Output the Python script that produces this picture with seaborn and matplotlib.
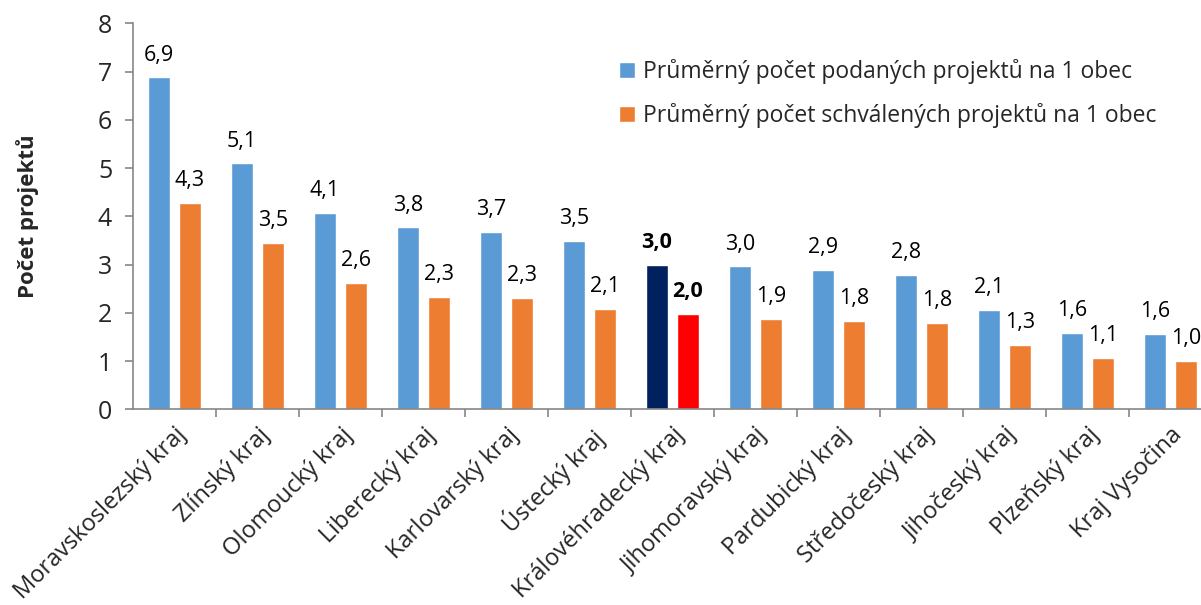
import numpy as np
import pandas as pd
import seaborn as sns
import matplotlib.pyplot as plt
from matplotlib.patches import Patch

kraje = ["Moravskoslezský kraj", "Zlínský kraj", "Olomoucký kraj", "Liberecký kraj",
         "Karlovarský kraj", "Ústecký kraj", "Královéhradecký kraj", "Jihomoravský kraj",
         "Pardubický kraj", "Středočeský kraj", "Jihočeský kraj", "Plzeňský kraj",
         "Kraj Vysočina"]
podane = [6.88, 5.10, 4.07, 3.77, 3.68, 3.49, 3.00, 2.96, 2.89, 2.79, 2.06, 1.59, 1.57]
schvalene = [4.28, 3.45, 2.62, 2.33, 2.31, 2.08, 1.98, 1.87, 1.84, 1.79, 1.34, 1.06, 1.00]
serie = ["Průměrný počet podaných projektů na 1 obec",
         "Průměrný počet schválených projektů na 1 obec"]
highlight = "Královéhradecký kraj"

blue, orange = "#5B9BD5", "#ED7D31"
navy, red = "#002060", "#FF0000"
axis_col = "#868686"

df = pd.DataFrame({
    "kraj": kraje * 2,
    "hodnota": podane + schvalene,
    "serie": [serie[0]] * len(kraje) + [serie[1]] * len(kraje),
})

sns.set_style("white")
plt.rcParams["font.family"] = ["Open Sans", "DejaVu Sans"]

fig = plt.figure(figsize=(12.01, 6.05), dpi=100)
W, H = 1201, 605
ax = fig.add_axes([133 / W, (H - 409.3) / H, 83 * 13 / W, 386 / H])

sns.barplot(data=df, x="kraj", y="hodnota", hue="serie", palette=[blue, orange],
            width=0.746, gap=0.28, legend=False, ax=ax, saturation=1)

hi = kraje.index(highlight)
for cont, hc in zip(ax.containers, [navy, red]):
    for i, bar in enumerate(cont):
        if i == hi:
            bar.set_facecolor(hc)
        h = bar.get_height()
        ax.annotate(f"{h:.1f}".replace(".", ","),
                    (bar.get_x() + bar.get_width() / 2, h),
                    xytext=(0, 12), textcoords="offset points",
                    ha="center", va="baseline", fontsize=15.5,
                    fontweight="bold" if i == hi else "normal", color="black")

ax.set_xlim(-0.5, len(kraje) - 0.5)
ax.set_ylim(0, 8)
ax.set_yticks(range(0, 9))
ax.tick_params(axis="y", labelsize=18, length=6, width=1.2, color=axis_col, pad=9, left=True)
ax.set_xticks(np.arange(len(kraje)) + 0.5, minor=True)
ax.tick_params(axis="x", which="minor", length=6, width=1.2, color=axis_col, bottom=True)
ax.tick_params(axis="x", which="major", length=0, pad=10)
ax.set_xticks(range(len(kraje)))
ax.set_xticklabels(kraje, rotation=45, ha="right", rotation_mode="anchor", fontsize=17)

for s in ["top", "right"]:
    ax.spines[s].set_visible(False)
for s in ["left", "bottom"]:
    ax.spines[s].set_color(axis_col)
    ax.spines[s].set_linewidth(1.2)

ax.set_xlabel("")
ax.set_ylabel("Počet projektů", fontsize=16, fontweight="bold", labelpad=42)

handles = [Patch(facecolor=blue), Patch(facecolor=orange)]
fig.legend(handles, serie, loc="upper left", bbox_to_anchor=(598 / W, 1 - 38 / H),
           frameon=False, fontsize=16.5, handlelength=0.7, handleheight=0.7,
           handletextpad=0.35, labelspacing=0.85)

fig.savefig("out.png", dpi=100)
